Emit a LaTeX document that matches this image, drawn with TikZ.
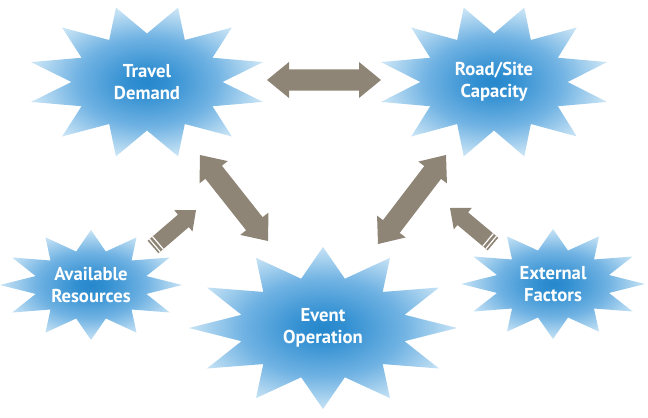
\documentclass[tikz,border=0pt]{standalone}
\usepackage{fontspec}
\setmainfont{PT Sans}
\usepackage{tikz}
\usetikzlibrary{calc}

\definecolor{arrowgray}{RGB}{143,133,118}
\pgfdeclareradialshading{burstshade}{\pgfpoint{0bp}{0bp}}{%
  rgb(0bp)=(0.15,0.53,0.80);
  rgb(4bp)=(0.19,0.56,0.82);
  rgb(15bp)=(0.44,0.70,0.89);
  rgb(25bp)=(0.78,0.89,0.96);
  rgb(50bp)=(0.78,0.89,0.96)}

% star with 12 points, elliptic
\newcommand{\burst}[6][90]{%
  \shade[shading=burstshade, shift={(#3)}, xscale=#4, yscale=#5]
    (#1:1) \foreach \i [evaluate=\i as \a using #1+15*\i,
                        evaluate=\i as \rr using {ifthenelse(mod(\i,2)==0,1,0.63)}]
      in {1,...,23} { -- (\a:\rr) } -- cycle;
  \node[bursttext] (#2) at (#3) {#6};
}
\newcommand{\arrowdims}[3]{\def\swid{#1}\def\hwid{#2}\def\hlen{#3}}
% double block arrow between #1 and #2
\newcommand{\dblarrow}[2]{%
  \coordinate (#1h) at ($(#1)!\hlen!(#2)$);
  \coordinate (#2h) at ($(#2)!\hlen!(#1)$);
  \fill[arrowgray] (#1)
    -- ($(#1h)!\hwid!90:(#2)$) -- ($(#1h)!\swid!90:(#2)$)
    -- ($(#2h)!\swid!-90:(#1)$) -- ($(#2h)!\hwid!-90:(#1)$)
    -- (#2)
    -- ($(#2h)!\hwid!90:(#1)$) -- ($(#2h)!\swid!90:(#1)$)
    -- ($(#1h)!\swid!-90:(#2)$) -- ($(#1h)!\hwid!-90:(#2)$) -- cycle;
}
% single block arrow from tail #1 to tip #2, striped tail
\newcommand{\sglarrow}[2]{%
  \coordinate (#2h) at ($(#2)!\hlen!(#1)$);
  \fill[arrowgray] (#2)
    -- ($(#2h)!\hwid!90:(#1)$) -- ($(#2h)!\swid!90:(#1)$)
    -- ($(#1)!\swid!-90:(#2)$) -- ($(#1)!\swid!90:(#2)$)
    -- ($(#2h)!\swid!-90:(#1)$) -- ($(#2h)!\hwid!-90:(#1)$) -- cycle;
  \foreach \d in {1.8pt,4.8pt}{
    \coordinate (#1s) at ($(#1)!\d!(#2)$);
    \draw[white, line width=0.9pt] ($(#1s)!\swid!90:(#2)$) -- ($(#1s)!\swid!-90:(#2)$);
  }
}

\begin{document}
\begin{tikzpicture}[x=0.75pt, y=-0.75pt,
  bursttext/.style={text=white, font=\fontsize{14}{16.5}\selectfont\bfseries, align=center, inner sep=0pt}
]
\useasboundingbox (0,0) rectangle (648,417);

% stars
\burst[15]{travel}{147,82}{120}{77}{Travel\\Demand}
\burst[15]{road}{494,82}{117}{77}{Road/Site\\Capacity}
\burst{resources}{91,285}{91}{55}{Available\\Resources}
\burst{event}{323,328}{134}{81}{Event\\Operation}
\burst{external}{553,284}{92}{55}{External\\Factors}

% big arrows
\coordinate (tdl) at (267,80);
\coordinate (rsr) at (381,80);
\coordinate (tdb) at (200,155);
\coordinate (eol) at (268,241);
\coordinate (rsb) at (446,155);
\coordinate (eor) at (378,244);
\arrowdims{7.9pt}{13.5pt}{16.5pt}
\dblarrow{tdl}{rsr}
\dblarrow{tdb}{eol}
\dblarrow{rsb}{eor}

% small arrows
\coordinate (art) at (153,247);
\coordinate (arh) at (196,210);
\coordinate (eft) at (493,244);
\coordinate (efh) at (450,208);
\arrowdims{6.2pt}{10.5pt}{12.5pt}
\sglarrow{art}{arh}
\sglarrow{eft}{efh}
\end{tikzpicture}
\end{document}
